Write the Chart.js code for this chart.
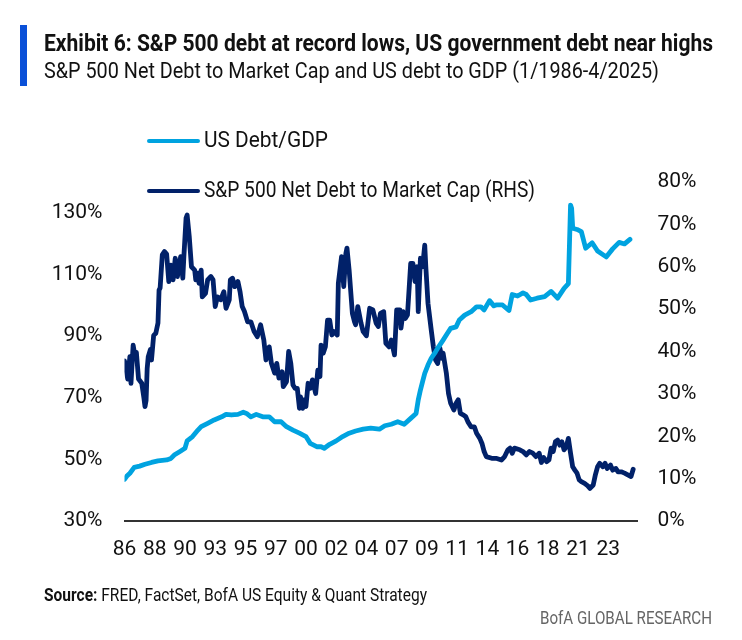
<!DOCTYPE html>
<html>
<head>
<meta charset="utf-8">
<script src="https://cdn.jsdelivr.net/npm/chart.js@4.4.1/dist/chart.umd.min.js"></script>
<style>
  html, body { margin: 0; padding: 0; background: #fff; }
  body { width: 742px; height: 640px; position: relative; overflow: hidden; font-family: Roboto, "Noto Sans", sans-serif; color: #111; }
  #chart { position: absolute; left: 0; top: 0; }
  .bar { position: absolute; left: 20px; top: 25px; width: 7px; height: 61px; background: #0a50d8; }
  .fit { display: inline-block; white-space: nowrap; transform-origin: left center; }
  .title { position: absolute; left: 44px; top: 30px; font: bold 23px Roboto, sans-serif; }
  .subtitle { position: absolute; left: 44px; top: 58px; font: 22px Roboto, sans-serif; }
  .legend { position: absolute; left: 147px; font-size: 22px; white-space: nowrap; }
  .legend span.swatch { display: inline-block; width: 53px; height: 4px; border-radius: 2px; vertical-align: middle; margin-right: 4px; }
  .source { position: absolute; left: 44px; top: 584px; font: 18px Roboto, sans-serif; }
  .brand { position: absolute; left: 540px; top: 607px; font: 18px Roboto, sans-serif; color: #666; }
</style>
</head>
<body>
<canvas id="chart" width="742" height="640"></canvas>
<div class="bar"></div>
<div class="title fit" data-w="669">Exhibit 6: S&amp;P 500 debt at record lows, US government debt near highs</div>
<div class="subtitle fit" data-w="615">S&amp;P 500 Net Debt to Market Cap and US debt to GDP (1/1986-4/2025)</div>
<div id="legend"></div>
<div class="source fit" data-w="383"><b>Source:</b> FRED, FactSet, BofA US Equity &amp; Quant Strategy</div>
<div class="brand fit" data-w="172">BofA GLOBAL RESEARCH</div>
<script>
;
(function (window, document) {
    'use strict';

    // US debt to GDP (left axis, %)
    let gdpDates = [
        '1986-01', '1986-03', '1986-06', '1986-10', '1987-03', '1987-08', '1988-02', '1988-08',
        '1989-04', '1989-08', '1989-11', '1990-04', '1990-09', '1990-11', '1991-04', '1991-09',
        '1991-12', '1992-06', '1992-12', '1993-07', '1993-11', '1994-04', '1994-10', '1995-03',
        '1995-06', '1995-10', '1996-03', '1996-09', '1997-03', '1997-08', '1998-02', '1998-07',
        '1999-01', '1999-07', '2000-01', '2000-05', '2000-11', '2001-03', '2001-06', '2001-11',
        '2002-05', '2002-11', '2003-05', '2003-11', '2004-06', '2005-01', '2005-09', '2006-02',
        '2006-08', '2007-02', '2007-08', '2008-02', '2008-07', '2008-09', '2008-11', '2009-01',
        '2009-03', '2009-06', '2009-09', '2010-01', '2010-04', '2010-08', '2010-12', '2011-03',
        '2011-08', '2011-11', '2012-04', '2012-10', '2013-03', '2013-07', '2013-10', '2014-03',
        '2014-07', '2014-09', '2015-03', '2015-09', '2015-12', '2016-05', '2016-10', '2017-01',
        '2017-05', '2017-11', '2018-06', '2018-12', '2019-06', '2019-12', '2020-04', '2020-06',
        '2020-07', '2020-08', '2020-12', '2021-04', '2021-08', '2022-02', '2022-07', '2023-03',
        '2023-09', '2024-03', '2024-08', '2025-01'
    ];
    let gdpValues = [
        43.5, 44.5, 45.5, 47.4, 47.8, 48.4, 49.0, 49.5,
        49.8, 50.3, 51.4, 52.5, 53.6, 56.0, 57.4, 59.5,
        60.6, 61.7, 62.8, 63.8, 64.6, 64.4, 64.6, 65.3,
        64.9, 63.8, 64.6, 63.8, 63.8, 62.2, 62.2, 60.6,
        59.5, 58.5, 57.4, 55.2, 54.1, 54.1, 53.6, 54.9,
        56.0, 57.4, 58.5, 59.2, 59.8, 60.1, 59.8, 60.9,
        61.4, 62.2, 61.4, 63.3, 64.9, 69.3, 72.5, 75.2,
        77.9, 80.6, 82.8, 84.9, 86.6, 88.7, 90.9, 92.5,
        93.0, 95.2, 96.8, 97.9, 99.5, 99.5, 98.5, 101.5,
        99.8, 100.1, 100.1, 98.3, 103.5, 103.0, 104.0, 103.5,
        101.7, 102.3, 102.8, 104.5, 102.3, 105.5, 107.0, 132.5,
        131.5, 125.0, 124.6, 123.9, 118.5, 120.3, 117.6, 115.7,
        118.3, 120.4, 119.9, 121.4
    ];

    // S&P 500 net debt to market cap (right axis, %)
    let debtDates = [
        '1986-01', '1986-04', '1986-06', '1986-07', '1986-09', '1986-11', '1986-12', '1987-02',
        '1987-05', '1987-07', '1987-08', '1987-09', '1987-10', '1987-11', '1988-01', '1988-02',
        '1988-04', '1988-06', '1988-08', '1988-09', '1988-10', '1988-12', '1989-02', '1989-04',
        '1989-06', '1989-08', '1989-10', '1989-12', '1990-02', '1990-05', '1990-07', '1990-08',
        '1990-10', '1990-11', '1991-01', '1991-03', '1991-06', '1991-07', '1991-09', '1991-10',
        '1991-12', '1992-01', '1992-04', '1992-06', '1992-09', '1992-11', '1993-01', '1993-03',
        '1993-06', '1993-09', '1993-11', '1994-02', '1994-03', '1994-05', '1994-07', '1994-10',
        '1994-12', '1995-02', '1995-04', '1995-07', '1995-10', '1996-01', '1996-04', '1996-07',
        '1996-10', '1996-12', '1997-03', '1997-05', '1997-08', '1997-10', '1997-12', '1998-03',
        '1998-04', '1998-07', '1998-09', '1998-11', '1999-01', '1999-03', '1999-05', '1999-07',
        '1999-08', '1999-10', '1999-11', '2000-01', '2000-03', '2000-05', '2000-07', '2000-10',
        '2000-12', '2001-02', '2001-03', '2001-05', '2001-07', '2001-09', '2001-11', '2002-01',
        '2002-03', '2002-06', '2002-07', '2002-10', '2002-12', '2003-02', '2003-03', '2003-05',
        '2003-08', '2003-10', '2003-11', '2004-01', '2004-04', '2004-06', '2004-09', '2004-12',
        '2005-03', '2005-06', '2005-08', '2005-10', '2006-01', '2006-03', '2006-06', '2006-08',
        '2006-11', '2007-01', '2007-04', '2007-05', '2007-07', '2007-09', '2007-11', '2008-02',
        '2008-04', '2008-06', '2008-08', '2008-09', '2008-11', '2009-01', '2009-03', '2009-04',
        '2009-06', '2009-09', '2009-11', '2010-01', '2010-03', '2010-05', '2010-07', '2010-08',
        '2010-11', '2011-01', '2011-03', '2011-06', '2011-08', '2011-10', '2011-12', '2012-03',
        '2012-05', '2012-07', '2012-10', '2013-01', '2013-03', '2013-06', '2013-08', '2013-10',
        '2013-12', '2014-05', '2014-09', '2015-02', '2015-05', '2015-08', '2015-10', '2015-12',
        '2016-02', '2016-07', '2016-10', '2017-01', '2017-04', '2017-07', '2017-10', '2018-01',
        '2018-03', '2018-05', '2018-08', '2018-10', '2018-12', '2019-02', '2019-04', '2019-06',
        '2019-08', '2019-10', '2019-12', '2020-02', '2020-04', '2020-06', '2020-08', '2020-10',
        '2020-12', '2021-02', '2021-04', '2021-07', '2021-10', '2021-12', '2022-03', '2022-05',
        '2022-07', '2022-09', '2022-12', '2023-02', '2023-04', '2023-07', '2023-09', '2023-12',
        '2024-02', '2024-05', '2024-08', '2024-11', '2025-02', '2025-04'
    ];
    let debtValues = [
        37.8, 33.5, 38.8, 32.5, 41.5, 38.5, 39.8, 33.5,
        32.5, 29.0, 27.0, 28.5, 36.0, 38.8, 40.5, 38.0,
        43.8, 44.3, 46.7, 54.5, 55.0, 62.8, 63.6, 63.0,
        56.5, 60.4, 56.9, 62.0, 57.7, 62.4, 57.3, 62.5,
        71.5, 72.2, 67.0, 60.0, 59.2, 56.9, 58.5, 56.1,
        59.2, 52.9, 53.7, 56.9, 57.7, 56.9, 50.6, 52.9,
        52.2, 54.1, 50.2, 52.2, 56.9, 57.3, 55.3, 56.5,
        54.1, 50.6, 49.5, 47.0, 47.0, 44.7, 43.5, 46.3,
        42.7, 38.0, 41.1, 37.2, 34.9, 37.2, 33.7, 35.2,
        31.7, 32.9, 40.0, 37.2, 32.1, 31.3, 31.3, 26.6,
        29.3, 26.6, 28.6, 27.0, 32.5, 31.3, 33.3, 30.1,
        35.6, 34.1, 41.5, 39.6, 41.1, 47.4, 47.4, 43.9,
        44.7, 43.9, 56.1, 62.4, 55.3, 63.2, 64.4, 59.2,
        49.0, 47.0, 46.3, 50.6, 46.7, 44.7, 43.7, 50.2,
        49.8, 46.7, 45.9, 49.0, 49.4, 41.9, 41.1, 42.7,
        39.2, 49.8, 49.8, 45.5, 49.4, 47.8, 48.6, 60.8,
        60.8, 56.5, 60.0, 49.4, 62.0, 60.0, 65.1, 60.0,
        51.4, 45.1, 41.1, 38.0, 37.2, 40.8, 38.4, 39.6,
        34.9, 30.1, 27.8, 26.2, 27.8, 28.6, 25.4, 25.0,
        24.6, 23.4, 22.2, 22.2, 20.7, 19.5, 18.3, 16.4,
        15.2, 14.8, 14.8, 14.4, 15.2, 16.8, 17.2, 16.0,
        17.2, 16.8, 16.4, 15.6, 16.4, 16.0, 15.2, 16.0,
        13.8, 15.0, 14.0, 14.4, 17.2, 16.4, 18.7, 19.1,
        17.9, 18.7, 16.8, 17.5, 19.5, 16.0, 12.8, 12.0,
        11.3, 9.7, 9.3, 8.9, 8.3, 7.7, 8.5, 10.9,
        12.8, 13.6, 12.8, 13.6, 12.4, 13.2, 12.0, 12.4,
        11.6, 11.6, 11.3, 10.9, 10.5, 12.2
    ];

    let tickDates = [
        '1986-01', '1988-05', '1990-09', '1993-01', '1995-05', '1997-09', '2000-01', '2002-05',
        '2004-09', '2007-01', '2009-05', '2011-09', '2014-01', '2016-05', '2018-09', '2021-01', '2023-05'
    ];
    let tickLabels = ['86', '88', '90', '93', '95', '97', '00', '02', '04', '07', '09', '11', '14', '16', '18', '21', '23'];
    let leftTicks = [30, 50, 70, 90, 110, 130];
    let rightTicks = [0, 10, 20, 30, 40, 50, 60, 70, 80];

    let seriesNames = ['US Debt/GDP', 'S&P 500 Net Debt to Market Cap (RHS)'];
    let seriesColors = ['#00a3e0', '#012169'];

    let chartApp = (function () {

        let $public = {};
        let $private = {};

        $private.monthIndex = function (date) {
            let parts = date.split('-').map(Number);
            return (parts[0] - 1986) * 12 + (parts[1] - 1);
        };

        $private.points = function (dates, values) {
            return dates.map(function (d, i) {
                return { x: $private.monthIndex(d), y: values[i] };
            });
        };

        $private.tickFont = { family: 'Roboto, "Noto Sans", sans-serif', size: 21 };

        // squeeze text horizontally to the width it has in the original (condensed face)
        $private.fit = function (el, target) {
            let w = el.getBoundingClientRect().width;
            if (w > 0) {
                el.style.transform = 'scaleX(' + (target / w) + ')';
            }
        };

        $public.draw = function (element) {
            let canvas = document.getElementById(element);

            return new Chart(canvas, {
                type: 'line',
                data: {
                    datasets: [{
                        label: seriesNames[0],
                        data: $private.points(gdpDates, gdpValues),
                        borderColor: seriesColors[0],
                        yAxisID: 'yLeft'
                    }, {
                        label: seriesNames[1],
                        data: $private.points(debtDates, debtValues),
                        borderColor: seriesColors[1],
                        yAxisID: 'yRight'
                    }]
                },
                options: {
                    responsive: false,
                    animation: false,
                    layout: { padding: { top: 182, left: 0, right: 0, bottom: 0 } },
                    elements: {
                        line: { borderWidth: 4.8, tension: 0, borderCapStyle: 'round', borderJoinStyle: 'round' },
                        point: { radius: 0 }
                    },
                    plugins: {
                        legend: { display: false },
                        tooltip: { enabled: false }
                    },
                    scales: {
                        x: {
                            type: 'linear',
                            min: 0,
                            max: 475,
                            grid: { display: false, drawTicks: false },
                            border: { display: true, color: '#333', width: 2 },
                            afterBuildTicks: function (scale) {
                                scale.ticks = tickDates.map(function (d) {
                                    return { value: $private.monthIndex(d) };
                                });
                            },
                            afterFit: function (scale) { scale.height = 119; },
                            ticks: {
                                autoSkip: false,
                                maxRotation: 0,
                                padding: 16,
                                color: '#111',
                                font: $private.tickFont,
                                callback: function (value, index) { return tickLabels[index]; }
                            }
                        },
                        yLeft: {
                            position: 'left',
                            min: 30,
                            max: 140,
                            grid: { display: false, drawTicks: false },
                            border: { display: false },
                            afterBuildTicks: function (scale) {
                                scale.ticks = leftTicks.map(function (v) { return { value: v }; });
                            },
                            afterFit: function (scale) { scale.width = 124.5; },
                            ticks: {
                                padding: 22,
                                color: '#111',
                                font: $private.tickFont,
                                callback: function (value) { return value + '%'; }
                            }
                        },
                        yRight: {
                            position: 'right',
                            min: 0,
                            max: 80,
                            grid: { display: false, drawTicks: false },
                            border: { display: false },
                            afterBuildTicks: function (scale) {
                                scale.ticks = rightTicks.map(function (v) { return { value: v }; });
                            },
                            afterFit: function (scale) { scale.width = 104.5; },
                            ticks: {
                                padding: 20,
                                color: '#111',
                                font: $private.tickFont,
                                callback: function (value) { return value + '%'; }
                            }
                        }
                    }
                }
            });
        };

        $public.legend = function (chart, element) {
            let box = document.getElementById(element);
            let tops = [127, 177];
            let widths = [124, 331];
            chart.data.datasets.forEach(function (ds, i) {
                let row = document.createElement('div');
                row.className = 'legend';
                row.style.top = tops[i] + 'px';
                let sw = document.createElement('span');
                sw.className = 'swatch';
                sw.style.background = ds.borderColor;
                row.appendChild(sw);
                let txt = document.createElement('span');
                txt.className = 'fit';
                txt.textContent = ds.label;
                row.appendChild(txt);
                box.appendChild(row);
                $private.fit(txt, widths[i]);
            });
        };

        $public.texts = function () {
            document.querySelectorAll('body > .fit').forEach(function (el) {
                $private.fit(el, Number(el.getAttribute('data-w')));
            });
        };

        return $public;
    })();

    let chart = chartApp.draw('chart');
    chartApp.legend(chart, 'legend');
    chartApp.texts();

})(window, document);
</script>
</body>
</html>
